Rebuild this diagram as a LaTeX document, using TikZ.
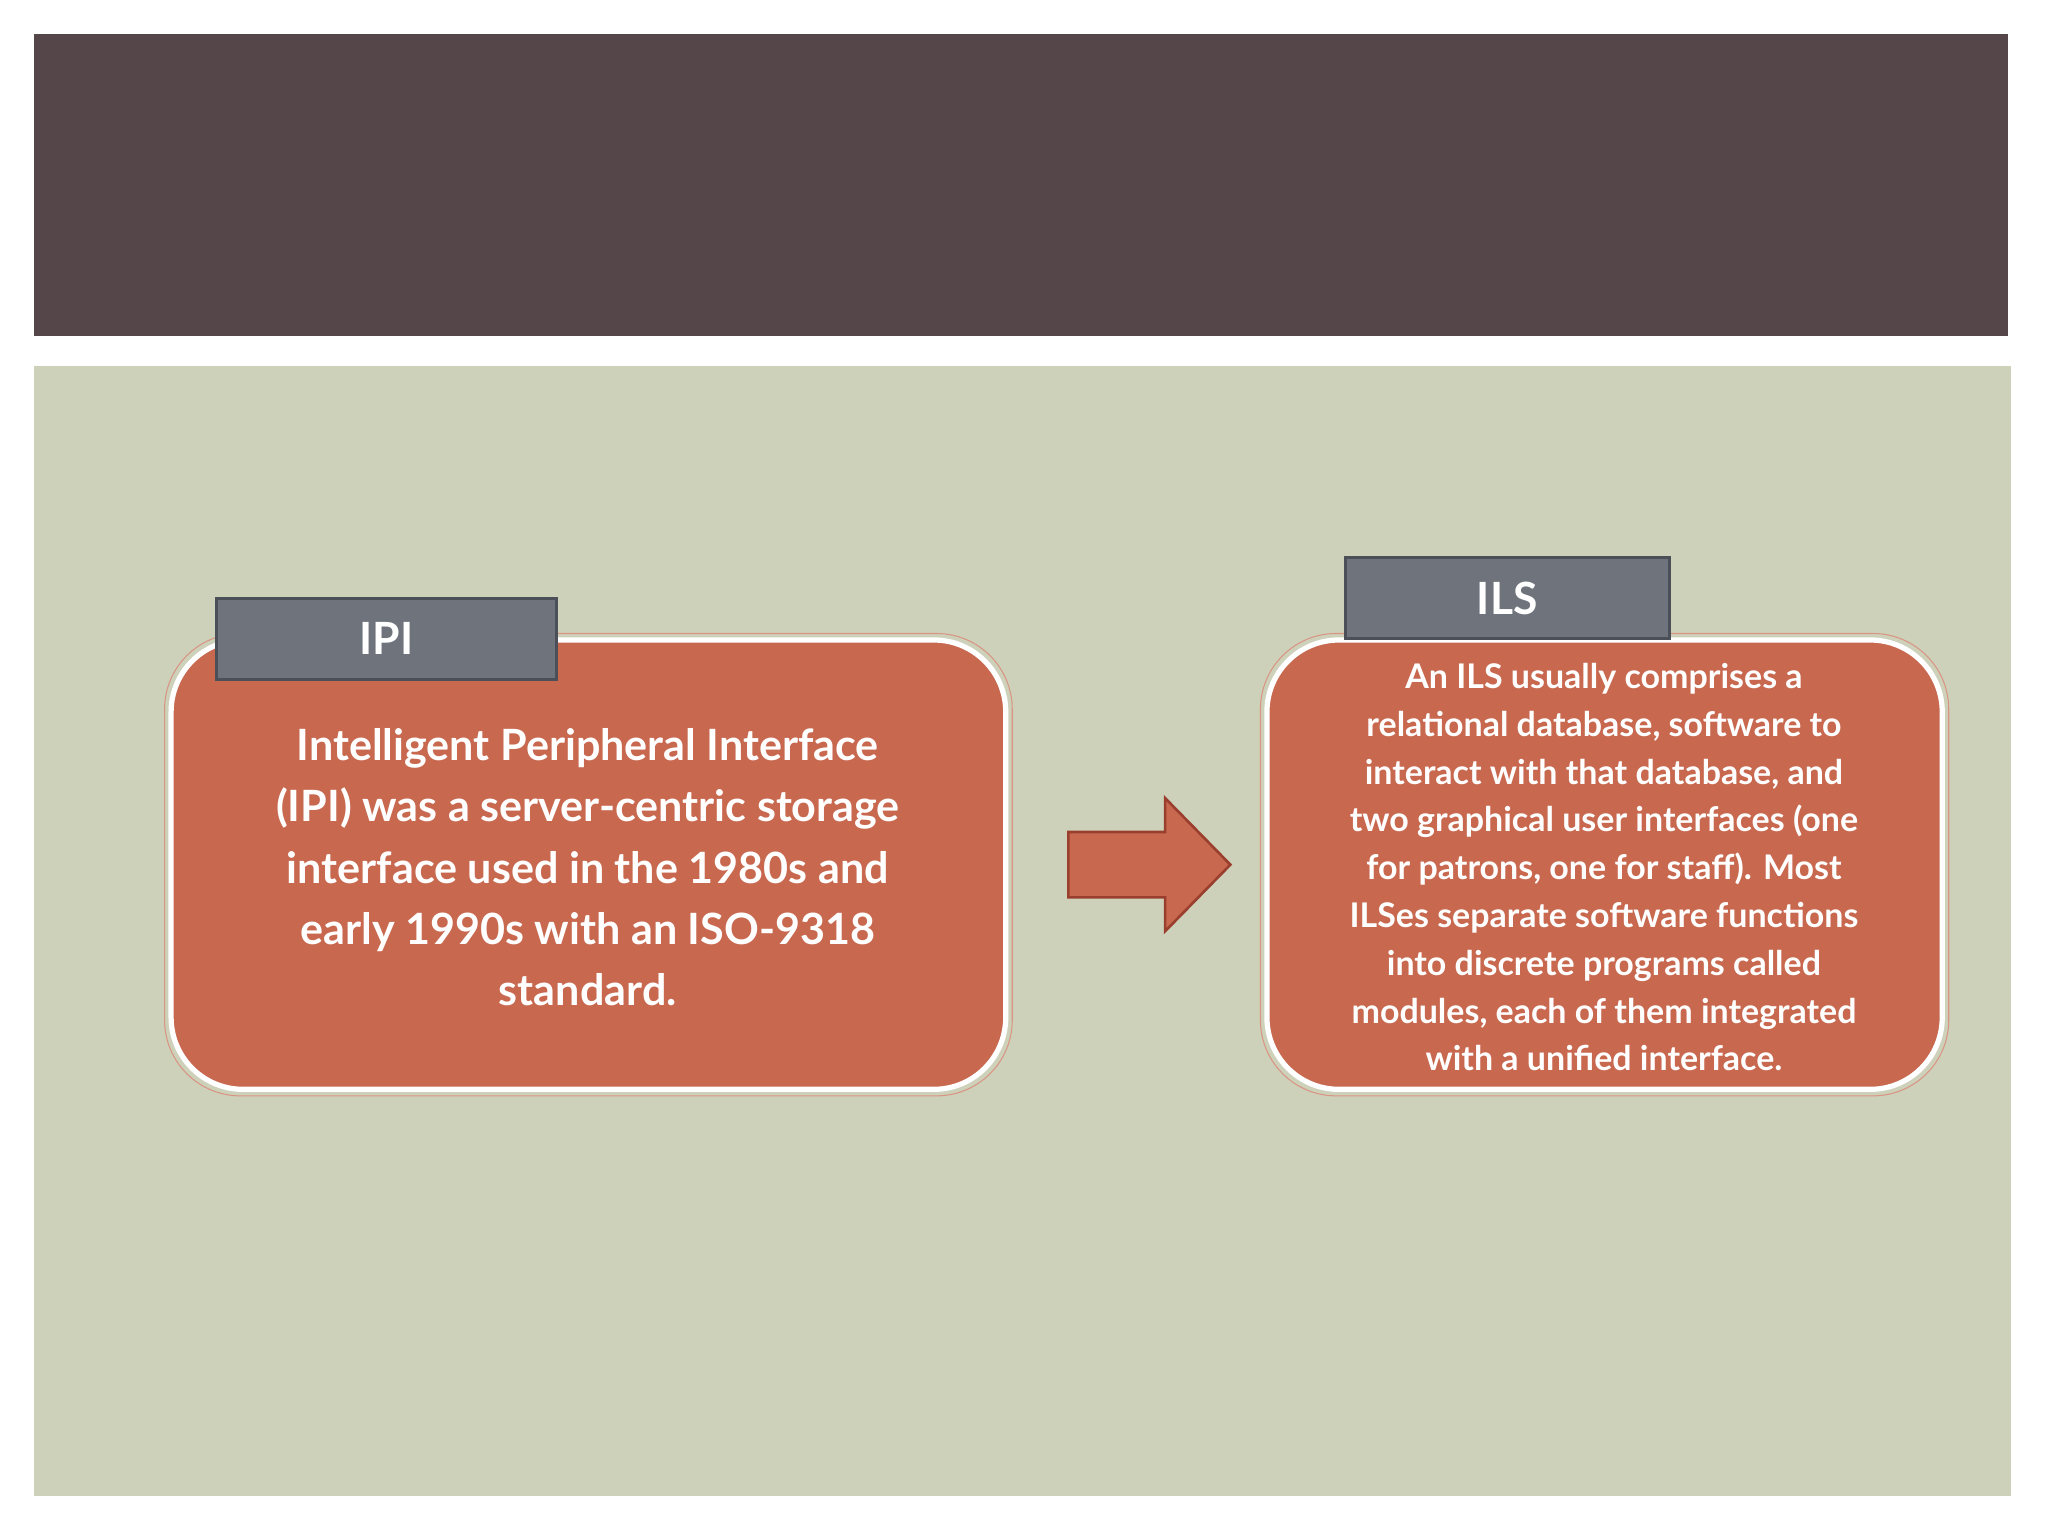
\documentclass[tikz,border=0pt]{standalone}
\usepackage{fontspec}
\setmainfont{Lato}
\definecolor{band}{HTML}{554749}
\definecolor{sage}{HTML}{CED1BA}
\definecolor{rust}{HTML}{C8684F}
\definecolor{rustd}{HTML}{9A3F2D}
\definecolor{tabg}{HTML}{6F747C}
\definecolor{tabd}{HTML}{4B5058}
\tikzset{
 card/.style={fill=rust, draw=white, line width=4pt, rounded corners=55pt},
 cardrim/.style={draw=rust!70!white, line width=0.8pt, rounded corners=58pt},
 tabbox/.style={fill=tabg, draw=tabd, line width=2.5pt, text=white, font=\bfseries\fontsize{34}{40}\selectfont, inner sep=0pt},
 body/.style={text=white, font=\bfseries, align=center, inner sep=0pt}
}
\begin{document}
\begin{tikzpicture}[x=1pt,y=-1pt]
\useasboundingbox (0,0) rectangle (1568,1176);
\fill[white] (0,0) rectangle (1568,1176);
\fill[band] (26,26) rectangle (1537,257);
\fill[sage] (26,280) rectangle (1540,1145);
% left card
\draw[cardrim] (126,485) rectangle (775,839);
\draw[card] (131,490) rectangle (770,834);
\node[body, font=\bfseries\fontsize{33}{47}\selectfont] (lt) at (450,664) {Intelligent Peripheral Interface\\(IPI) was a server-centric storage\\interface used in the 1980s and\\early 1990s with an ISO-9318\\standard.};
\node[tabbox, minimum width=260pt, minimum height=62pt] (ipi) at (296,489) {IPI};
% right card
\draw[cardrim] (965,485) rectangle (1492,839);
\draw[card] (970,490) rectangle (1487,834);
\node[body, font=\bfseries\fontsize{26}{36.6}\selectfont] (rt) at (1228,664) {An ILS usually comprises a\\relational database, software to\\interact with that database, and\\two graphical user interfaces (one\\for patrons, one for staff). Most\\ILSes separate software functions\\into discrete programs called\\modules, each of them integrated\\with a unified interface.};
\node[tabbox, minimum width=248pt, minimum height=62pt] (ils) at (1154,458) {ILS};
% arrow
\draw[fill=rust, draw=rustd, line width=2pt, line join=miter]
 (818,637) -- (892,637) -- (892,611) -- (942,662) -- (892,713) -- (892,687) -- (818,687) -- cycle;
\end{tikzpicture}
\end{document}
